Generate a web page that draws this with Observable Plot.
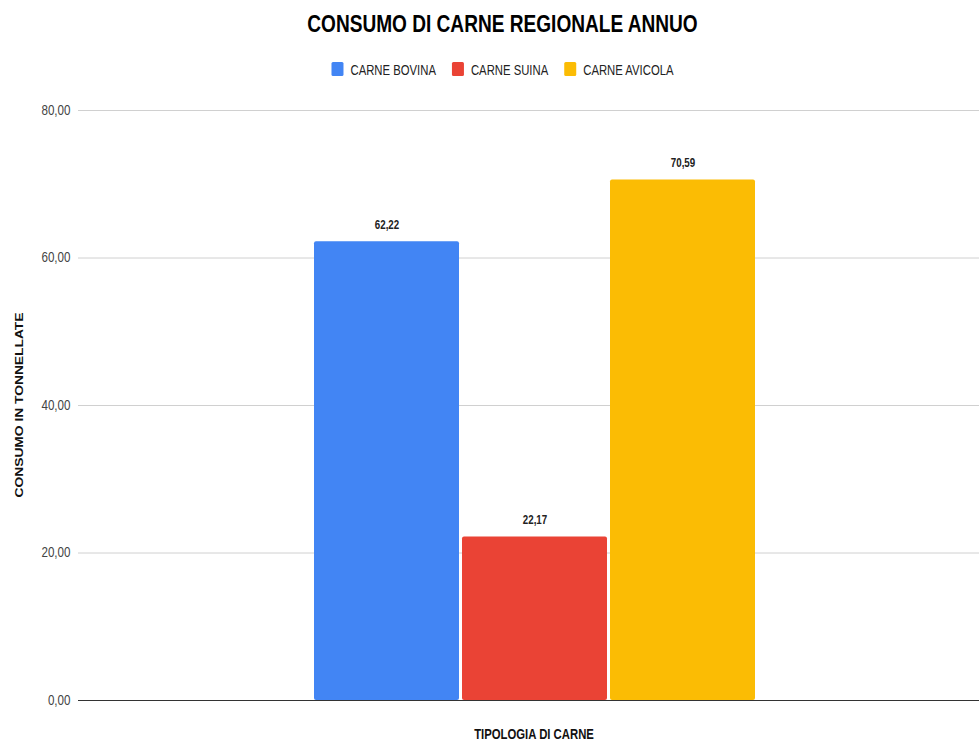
<!DOCTYPE html>
<html><head><meta charset="utf-8">
<script src="https://cdn.jsdelivr.net/npm/d3@7"></script>
<script src="https://cdn.jsdelivr.net/npm/@observablehq/plot@0.6"></script>
<style>
body{margin:0;background:#fff;width:979px;height:742px;overflow:hidden;font-family:"Liberation Sans",Arial,sans-serif;}
#header{position:absolute;left:0;top:0;}
#chart{position:absolute;left:0;top:90px;}
</style></head>
<body>
<div id="header"></div>
<div id="chart"></div>
<script>
const title = "CONSUMO DI CARNE REGIONALE ANNUO";
const categories = ["CARNE BOVINA", "CARNE SUINA", "CARNE AVICOLA"];
const values = [62.22, 22.17, 70.59];
const colors = ["#4285F4", "#EA4335", "#FBBC04"];
const yTicks = [0, 20, 40, 60, 80];
const xTitle = "TIPOLOGIA DI CARNE";
const yTitle = "CONSUMO IN TONNELLATE";

const data = categories.map((c, i) => ({cat: c, value: values[i]}));
const fmt = v => d3.format(".2f")(v).replace(".", ",");
const FONT = '"Liberation Sans",Arial,sans-serif';

// squeeze a text horizontally around its anchor point (y attribute kept as is)
function squeeze(el, s) {
  const xa = el.getAttribute("x");
  const x = xa !== null && isFinite(+xa) ? +xa : 0;
  if (xa !== null && isFinite(+xa)) el.removeAttribute("x");
  const t = el.getAttribute("transform") || "";
  el.setAttribute("transform", `${t} translate(${x},0) scale(${s},1)`);
}

// ---------- header (title + legend) ----------
const hdr = d3.select("#header").append("svg").attr("width", 979).attr("height", 90)
  .attr("font-family", FONT);
const CX = 502.5;
hdr.append("text").attr("x", CX).attr("y", 32).attr("text-anchor", "middle")
  .attr("font-weight", "bold").attr("font-size", 23).attr("fill", "#000")
  .attr("transform", `translate(${CX},0) scale(0.83,1) translate(${-CX},0)`)
  .text(title);

const LS = 0.78, legFont = 14.5;
const legG = hdr.append("g");
let cx = 0;
categories.forEach((c, i) => {
  legG.append("rect").attr("x", cx).attr("y", 62).attr("width", 12).attr("height", 14)
    .attr("rx", 1.5).attr("fill", colors[i]);
  cx += 12 + 7;
  const t = legG.append("text").attr("x", 0).attr("y", 0)
    .attr("font-size", legFont).attr("fill", "#222")
    .attr("transform", `translate(${cx},75) scale(${LS},1)`).text(c);
  const w = t.node().getComputedTextLength() * LS;
  cx += w + 16;
});
const legW = cx - 16;
legG.attr("transform", `translate(${CX - legW / 2},0)`);

// ---------- chart ----------
const W = 979, H = 652;
const chart = Plot.plot({
  width: W, height: H,
  marginLeft: 78, marginRight: 0, marginTop: 20, marginBottom: 42,
  style: {fontFamily: FONT, background: "#fff"},
  x: {domain: categories, range: [313, 756], paddingInner: 0.02, paddingOuter: 0, axis: null},
  y: {domain: [0, 80], ticks: yTicks, label: null, tickFormat: fmt, tickSize: 0, axis: null},
  color: {domain: categories, range: colors},
  marks: [
    Plot.ruleY(yTicks.filter(t => t > 0), {stroke: "#d0d0d0", strokeWidth: 1}),
    Plot.text(yTicks, {frameAnchor: "left", y: d => d, text: d => fmt(d), dx: -8, textAnchor: "end",
      fontSize: 14, fill: "#444", className: "ytick"}),
    Plot.barY(data, {x: "cat", y: "value", fill: "cat", rx: 2}),
    Plot.ruleY([0], {stroke: "#333", strokeWidth: 1}),
    Plot.text(data, {x: "cat", y: "value", text: d => fmt(d.value), dy: -17, fontWeight: "bold",
      fontSize: 13, fill: "#222", className: "vlabel"})
  ]
});
document.getElementById("chart").appendChild(chart);

const svg = d3.select(chart);
svg.selectAll(".ytick text").each(function() { squeeze(this, 0.83); });
svg.selectAll(".vlabel text").each(function() { squeeze(this, 0.75); });

// axis titles as real text
svg.append("text")
  .attr("transform", `translate(534,${739 - 90}) scale(0.81,1)`)
  .attr("text-anchor", "middle").attr("font-family", FONT)
  .attr("font-weight", "bold").attr("font-size", 14).attr("fill", "#111")
  .text(xTitle);
svg.append("text")
  .attr("transform", `translate(23,${405 - 90}) scale(0.83,1) rotate(-90)`)
  .attr("text-anchor", "middle").attr("font-family", FONT)
  .attr("font-weight", "bold").attr("font-size", 13.8).attr("fill", "#111")
  .text(yTitle);
</script>
</body></html>
